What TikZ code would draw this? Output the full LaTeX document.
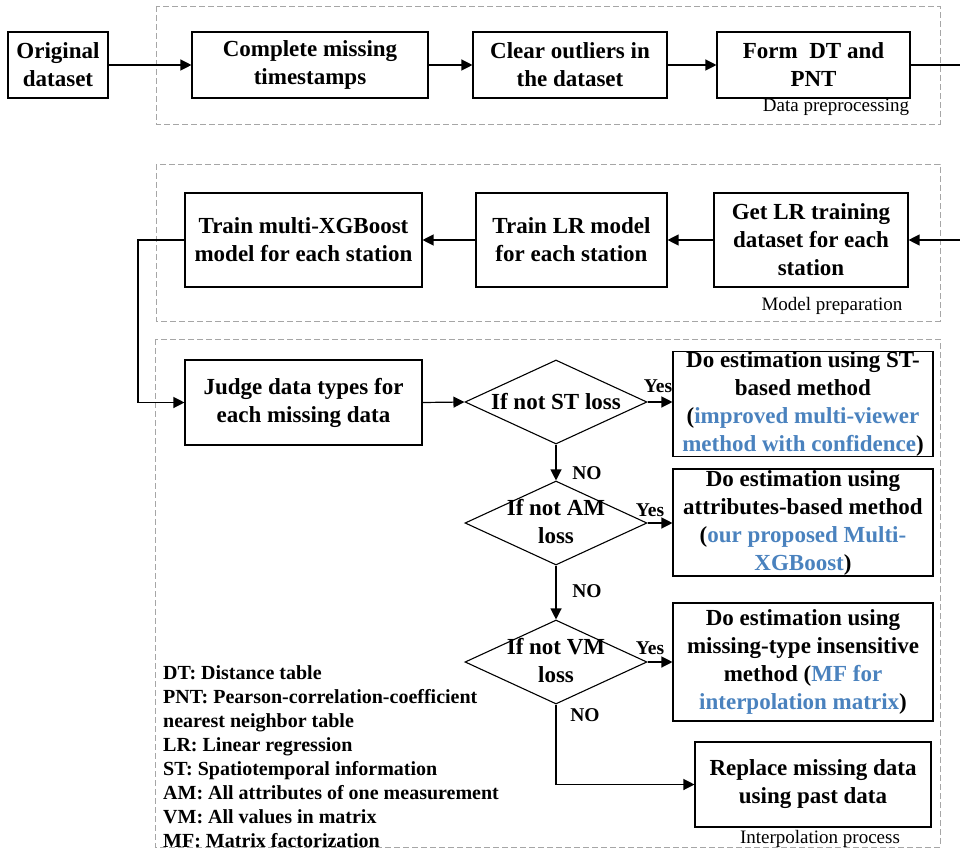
\documentclass[tikz,border=0pt]{standalone}
\usepackage{fontspec}
\setmainfont{Liberation Serif}
\usetikzlibrary{arrows.meta,shapes.geometric}
\definecolor{myblue}{RGB}{74,130,190}
\newcommand\bxfont{\fontsize{23}{28}\selectfont\bfseries}
\newcommand\lgfont{\fontsize{20}{24}\selectfont\bfseries}
\newcommand\grpfont{\fontsize{19}{22}\selectfont}
\newcommand\blu[1]{\textcolor{myblue}{#1}}
\begin{document}
\begin{tikzpicture}[x=1pt,y=-1pt,
  boxnode/.style={draw,line width=1.1pt,rectangle,align=center,inner xsep=2pt,inner ysep=0pt,font=\bxfont},
  dia/.style={draw,line width=1.1pt,diamond,minimum width=182pt,minimum height=84pt,inner sep=0pt},
  dtext/.style={align=center,inner sep=0pt,font=\bxfont},
  arr/.style={line width=1.2pt,-{Triangle[length=11pt,width=11pt]}},
  plain/.style={line width=1.2pt},
  group/.style={draw=gray!70,line width=0.9pt,dash pattern=on 6pt off 3pt},
  grplabel/.style={font=\grpfont,inner sep=0pt,anchor=base},
  yn/.style={font=\fontsize{19.5}{22}\selectfont\bfseries,inner sep=0pt}]
\useasboundingbox (0,0) rectangle (960,850);
% group frames
\draw[group] (156,6) rectangle (940,124);
\draw[group] (156,164) rectangle (940,321);
\draw[group] (155,339) rectangle (940,847);
\node[grplabel] (lp) at (836,112) {Data preprocessing};
\node[grplabel] (lm) at (832,310) {Model preparation};
\node[grplabel] (li) at (820,843) {Interpolation process};
% top row
\node[boxnode,minimum width=100pt,minimum height=66pt] (orig) at (58,65) {Original\\dataset};
\node[boxnode,minimum width=236pt,minimum height=66pt] (comp) at (310,65) {Complete missing\\timestamps};
\node[boxnode,minimum width=194pt,minimum height=66pt] (clear) at (570,65) {Clear outliers in\\the dataset};
\node[boxnode,minimum width=193pt,minimum height=66pt] (form) at (813.5,65) {Form~ DT and\\PNT};
\coordinate (r1) at (960,65);
\coordinate (r2) at (960,240);
% second row
\node[boxnode,minimum width=194pt,minimum height=94pt] (getlr) at (811,240) {Get LR training\\dataset for each\\station};
\node[boxnode,minimum width=191pt,minimum height=94pt] (trlr) at (571.5,240) {Train LR model\\for each station};
\node[boxnode,minimum width=237pt,minimum height=94pt] (xgb) at (303.5,240) {Train multi-XGBoost\\model for each station};
% interpolation
\node[boxnode,minimum width=237pt,minimum height=85pt] (judge) at (303.5,402.5) {Judge data types for\\each missing data};
\node[dia] (d1) at (556,402) {};
\node[dia] (d2) at (556,523) {};
\node[dia] (d3) at (556,662) {};
\node[dtext] (t1) at (556,402) {If not ST loss};
\node[dtext] (t2) at (556,522) {If not AM\\loss};
\node[dtext] (t3) at (556,661) {If not VM\\loss};
\node[boxnode,minimum width=260pt,minimum height=104pt] (e1) at (803,404) {Do estimation using ST-\\based method\\(\blu{improved multi-viewer}\\\blu{method with confidence})};
\node[boxnode,minimum width=260pt,minimum height=107pt] (e2) at (803,522.5) {Do estimation using\\attributes-based method\\(\blu{our proposed Multi-}\\\blu{XGBoost})};
\node[boxnode,minimum width=260pt,minimum height=118pt] (e3) at (803,662) {Do estimation using\\missing-type insensitive\\method (\blu{MF for}\\\blu{interpolation matrix})};
\node[boxnode,minimum width=236pt,minimum height=85pt] (rep) at (813,784.5) {Replace missing data\\using past data};
\coordinate (xl) at (138,240);
\coordinate (xb) at (138,402.5);
\coordinate (dc) at (556,784.5);
% connectors
\draw[arr] (orig) -- (comp);
\draw[arr] (comp) -- (clear);
\draw[arr] (clear) -- (form);
\draw[plain] (form.east) -- (r1);
\draw[arr] (r2) -- (getlr.east);
\draw[arr] (getlr) -- (trlr);
\draw[arr] (trlr) -- (xgb);
\draw[arr] (xgb.west) -- (xl) -- (xb) -- (judge.west);
\draw[arr] (judge.east) -- (d1.west);
\draw[arr] (d1.east) -- (d1.east -| e1.west);
\draw[arr] (d1.south) -- (d2.north);
\draw[arr] (d2.east) -- (d2.east -| e2.west);
\draw[arr] (d2.south) -- (d3.north);
\draw[arr] (d3.east) -- (d3.east -| e3.west);
\draw[arr] (d3.south) -- (dc) -- (rep.west);
% yes/no labels
\node[yn] (y1) at (658,386) {Yes};
\node[yn] (y2) at (650,510) {Yes};
\node[yn] (y3) at (650,648) {Yes};
\node[yn] (n1) at (587,473) {NO};
\node[yn] (n2) at (587,591) {NO};
\node[yn] (n3) at (585,715) {NO};
% legend
\node[font=\lgfont,align=left,inner sep=0pt,anchor=north west] (legend) at (163,665) {DT: Distance table\\PNT: Pearson-correlation-coefficient\\nearest neighbor table\\LR: Linear regression\\ST: Spatiotemporal information\\AM: All attributes of one measurement\\VM: All values in matrix\\MF: Matrix factorization};
\end{tikzpicture}
\end{document}
